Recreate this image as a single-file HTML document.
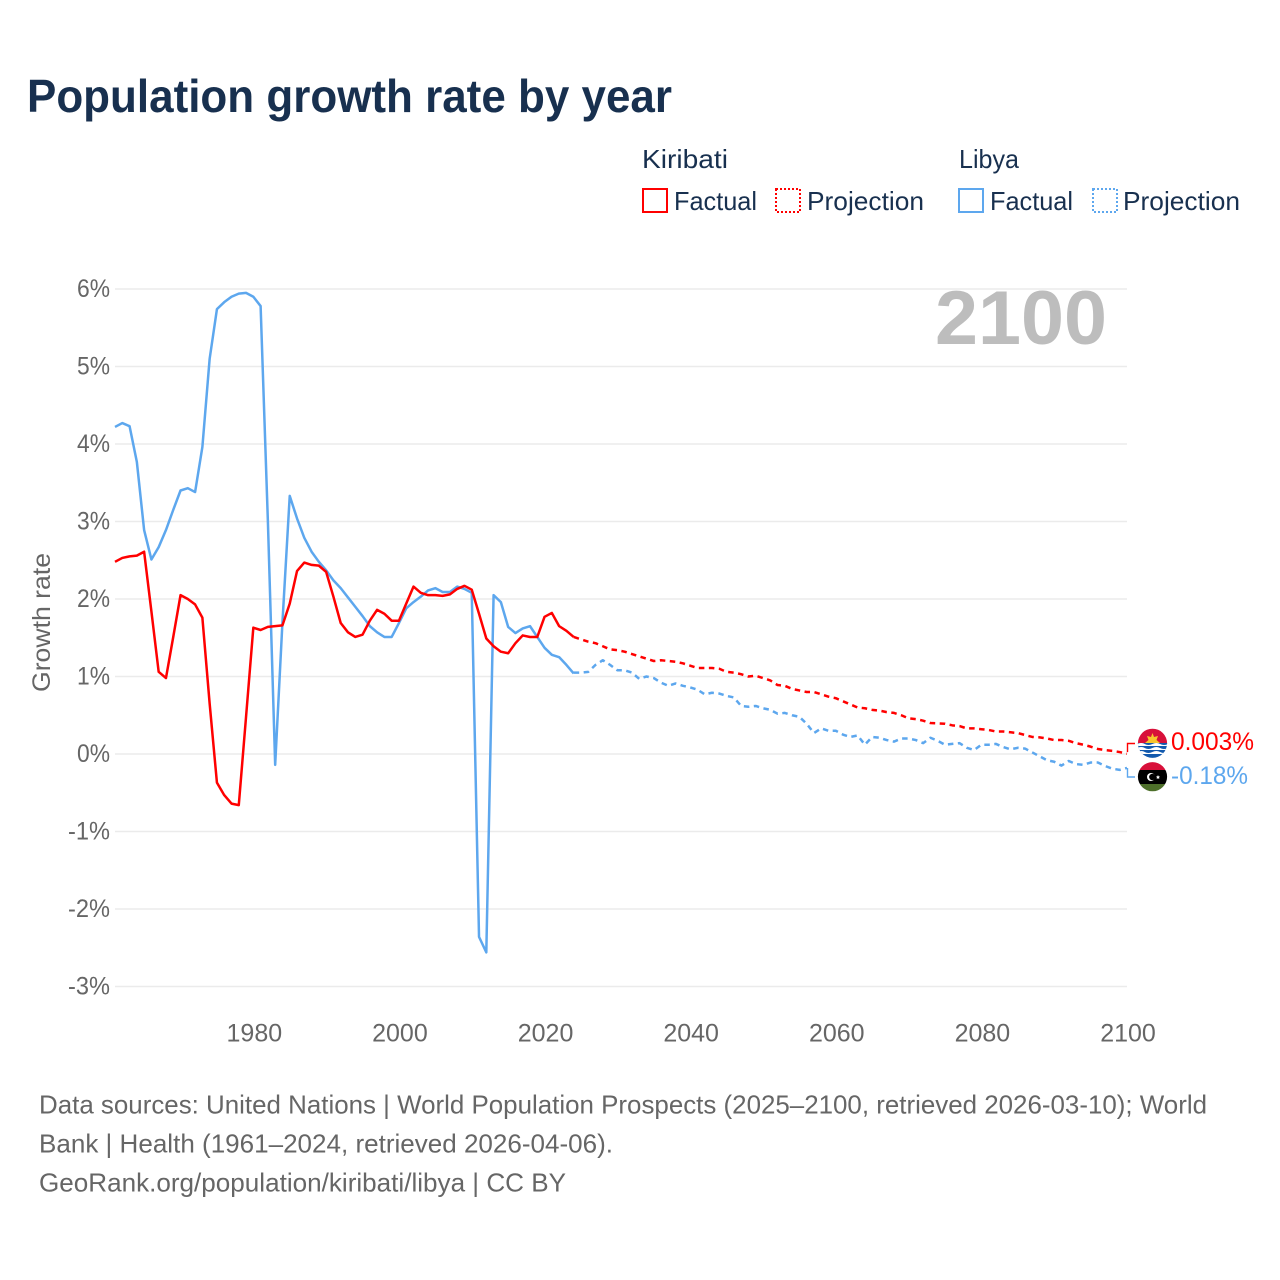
<!DOCTYPE html>
<html lang="en">
<head>
<meta charset="utf-8">
<title>Population growth rate by year</title>
<style>
html,body{margin:0;padding:0;background:#fff;}
svg{display:block;}
text{font-family:"Liberation Sans",sans-serif;}
</style>
</head>
<body>
<svg id="chart" xmlns="http://www.w3.org/2000/svg" width="1280" height="1280" viewBox="0 0 1280 1280">
  <rect x="0" y="0" width="1280" height="1280" fill="#ffffff"/>
  <text x="27" y="112" font-size="46" font-weight="700" fill="#18304f" textLength="645" lengthAdjust="spacingAndGlyphs">Population growth rate by year</text>

  <g font-size="26" fill="#18304f">
    <text x="642" y="168" textLength="86" lengthAdjust="spacingAndGlyphs">Kiribati</text>
    <rect x="643" y="189" width="24" height="23" fill="none" stroke="#ff0000" stroke-width="2"/>
    <text x="674" y="210" textLength="83" lengthAdjust="spacingAndGlyphs">Factual</text>
    <rect x="776" y="189" width="24" height="23" fill="none" stroke="#ff0000" stroke-width="2" stroke-dasharray="2 2"/>
    <text x="807" y="210" textLength="117" lengthAdjust="spacingAndGlyphs">Projection</text>
    <text x="959" y="168" textLength="60" lengthAdjust="spacingAndGlyphs">Libya</text>
    <rect x="959" y="189" width="24" height="23" fill="none" stroke="#5da7ee" stroke-width="2"/>
    <text x="990" y="210" textLength="83" lengthAdjust="spacingAndGlyphs">Factual</text>
    <rect x="1093" y="189" width="24" height="23" fill="none" stroke="#5da7ee" stroke-width="2" stroke-dasharray="2 2"/>
    <text x="1123" y="210" textLength="117" lengthAdjust="spacingAndGlyphs">Projection</text>
  </g>

  <text transform="translate(50,622.5) rotate(-90)" text-anchor="middle" font-size="25" fill="#666666" textLength="139" lengthAdjust="spacingAndGlyphs">Growth rate</text>
  <g id="grid"></g>
  <g id="yTicks"></g>
  <g id="xTicks"></g>
  <text x="1107" y="344" text-anchor="end" font-size="76" font-weight="700" fill="#bdbdbd" textLength="172" lengthAdjust="spacingAndGlyphs">2100</text>
  <g id="series"></g>

  <path d="M1127.5 752V743.5H1135" fill="none" stroke="#ff0000" stroke-width="1.4"/>
  <path d="M1127.5 768V777H1135" fill="none" stroke="#5da7ee" stroke-width="1.4"/>

  <defs>
    <clipPath id="flagClipK"><circle cx="1152.5" cy="743.3" r="14.6"/></clipPath>
    <clipPath id="flagClipL"><circle cx="1152.5" cy="776.7" r="14.6"/></clipPath>
  </defs>
  <g clip-path="url(#flagClipK)">
    <rect x="1137" y="728" width="31" height="16" fill="#d8103a"/>
    <rect x="1137" y="743" width="31" height="16" fill="#1259ad"/>
    <polygon points="1152.5,733 1154,737 1158,736 1156.5,740 1160,743 1145,743 1148.5,740 1147,736 1151,737" fill="#f7c52e"/>
    <path d="M1137 744q4-2 7.7 0t7.7 0 7.7 0 7.9 0v2h-31z M1137 748q4-2 7.7 0t7.7 0 7.7 0 7.9 0v2h-31z M1137 752q4-2 7.7 0t7.7 0 7.7 0 7.9 0v2h-31z" fill="#ffffff"/>
  </g>
  <g clip-path="url(#flagClipL)">
    <rect x="1137" y="762" width="31" height="8" fill="#d8103a"/>
    <rect x="1137" y="770" width="31" height="14" fill="#000000"/>
    <rect x="1137" y="784" width="31" height="8" fill="#4d6f2a"/>
    <circle cx="1151" cy="777" r="4" fill="#ffffff"/>
    <circle cx="1152.3" cy="777" r="3.2" fill="#000000"/>
    <polygon points="1158,775 1158.6,776.4 1160,776.6 1159,777.6 1159.3,779 1158,778.3 1156.7,779 1157,777.6 1156,776.6 1157.4,776.4" fill="#ffffff"/>
  </g>
  <text x="1171" y="750" font-size="25" fill="#ff0000" textLength="83" lengthAdjust="spacingAndGlyphs">0.003%</text>
  <text x="1171" y="784" font-size="25" fill="#5da7ee" textLength="77" lengthAdjust="spacingAndGlyphs">-0.18%</text>

  <g font-size="26" fill="#666666">
    <text x="39" y="1113.5" textLength="1168" lengthAdjust="spacingAndGlyphs">Data sources: United Nations | World Population Prospects (2025–2100, retrieved 2026-03-10); World</text>
    <text x="39" y="1152.5" textLength="574" lengthAdjust="spacingAndGlyphs">Bank | Health (1961–2024, retrieved 2026-04-06).</text>
    <text x="39" y="1191.5" textLength="527" lengthAdjust="spacingAndGlyphs">GeoRank.org/population/kiribati/libya | CC BY</text>
  </g>
</svg>
<script>
const yTickValues = [6, 5, 4, 3, 2, 1, 0, -1, -2, -3];
const xTickYears = [1980, 2000, 2020, 2040, 2060, 2080, 2100];
const factualStartYear = 1961;
const projectionStartYear = 2024;

const kiribatiFactual = [
  2.48, 2.53, 2.55, 2.56, 2.61, 1.84, 1.06, 0.98, 1.51,
  2.05, 2.00, 1.93, 1.76, 0.65, -0.37, -0.53, -0.64, -0.66, 0.48,
  1.63, 1.60, 1.64, 1.65, 1.66, 1.94, 2.36, 2.47, 2.44, 2.43,
  2.35, 2.03, 1.69, 1.57, 1.51, 1.54, 1.72, 1.86, 1.81, 1.72,
  1.72, 1.94, 2.16, 2.08, 2.05, 2.05, 2.04, 2.06, 2.13, 2.17,
  2.12, 1.81, 1.49, 1.39, 1.32, 1.30, 1.43, 1.53, 1.51, 1.51,
  1.77, 1.82, 1.65, 1.59, 1.51
];
const kiribatiProjection = [
  1.51, 1.48, 1.45, 1.43, 1.39, 1.35, 1.34, 1.32, 1.29, 1.26,
  1.23, 1.20, 1.21, 1.20, 1.19, 1.17, 1.14, 1.11, 1.11, 1.11,
  1.10, 1.06, 1.05, 1.03, 1.00, 1.01, 0.98, 0.95, 0.89, 0.88,
  0.84, 0.82, 0.80, 0.80, 0.77, 0.74, 0.72, 0.68, 0.64, 0.60,
  0.59, 0.57, 0.56, 0.54, 0.53, 0.50, 0.46, 0.45, 0.43, 0.40,
  0.395, 0.39, 0.37, 0.36, 0.33, 0.33, 0.32, 0.31, 0.29, 0.29,
  0.28, 0.27, 0.245, 0.22, 0.215, 0.20, 0.18, 0.18, 0.17, 0.14,
  0.12, 0.095, 0.065, 0.05, 0.04, 0.025, 0.003
];
const libyaFactual = [
  4.22, 4.27, 4.23, 3.77, 2.89, 2.51, 2.67, 2.89, 3.15,
  3.40, 3.43, 3.38, 3.96, 5.10, 5.74, 5.83, 5.90, 5.94, 5.95,
  5.90, 5.78, 3.00, -0.14, 1.70, 3.33, 3.04, 2.79, 2.61, 2.48,
  2.37, 2.24, 2.14, 2.02, 1.90, 1.78, 1.65, 1.57, 1.51, 1.51,
  1.69, 1.88, 1.96, 2.03, 2.11, 2.14, 2.09, 2.09, 2.16, 2.13,
  2.08, -2.36, -2.56, 2.05, 1.96, 1.64, 1.56, 1.62, 1.65, 1.51,
  1.37, 1.28, 1.25, 1.15, 1.04
];
const libyaProjection = [
  1.05, 1.05, 1.06, 1.15, 1.21, 1.15, 1.08, 1.08, 1.05, 0.97,
  1.00, 0.98, 0.92, 0.88, 0.91, 0.88, 0.86, 0.83, 0.77, 0.79,
  0.78, 0.75, 0.73, 0.62, 0.61, 0.62, 0.59, 0.57, 0.52, 0.53,
  0.50, 0.48, 0.39, 0.27, 0.33, 0.30, 0.30, 0.25, 0.22, 0.24,
  0.12, 0.22, 0.21, 0.18, 0.16, 0.20, 0.20, 0.18, 0.14, 0.21,
  0.17, 0.12, 0.13, 0.14, 0.08, 0.05, 0.12, 0.12, 0.13, 0.09,
  0.06, 0.08, 0.07, 0.02, -0.03, -0.08, -0.10, -0.15, -0.09, -0.13,
  -0.14, -0.11, -0.11, -0.155, -0.19, -0.205, -0.18
];

const SVG_NS = 'http://www.w3.org/2000/svg';
const RED = '#ff0000';
const BLUE = '#5da7ee';

function xScale(year) {
  return 115 + (year - 1961) * (1127 - 115) / (2100 - 1961);
}
function yScale(value) {
  return 754 - value * 77.5;
}
function linePath(values, startYear) {
  return values.map(function (v, i) {
    return (i ? 'L' : 'M') + xScale(startYear + i).toFixed(2) + ' ' + yScale(v).toFixed(2);
  }).join('');
}

const gridGroup = document.getElementById('grid');
const yTickGroup = document.getElementById('yTicks');
const xTickGroup = document.getElementById('xTicks');
const seriesGroup = document.getElementById('series');

yTickValues.forEach(function (v) {
  const line = document.createElementNS(SVG_NS, 'line');
  
  
  line.setAttribute('x1', 115);
  line.setAttribute('x2', 1127);
  line.setAttribute('y1', yScale(v));
  line.setAttribute('y2', yScale(v));
  line.setAttribute('stroke', '#ebebeb');
  line.setAttribute('stroke-width', 1.5);
  gridGroup.appendChild(line);

  const label = document.createElementNS(SVG_NS, 'text');
  
  
  label.setAttribute('x', 110);
  label.setAttribute('y', yScale(v) + 8);
  label.setAttribute('text-anchor', 'end');
  label.setAttribute('font-size', 25);
  label.setAttribute('fill', '#666666');
  label.setAttribute('textLength', v < 0 ? 42 : 33);
  label.setAttribute('lengthAdjust', 'spacingAndGlyphs');
  label.textContent = v + '%';
  yTickGroup.appendChild(label);
});

xTickYears.forEach(function (year) {
  const label = document.createElementNS(SVG_NS, 'text');
  
  
  label.setAttribute('x', xScale(year) + 1);
  label.setAttribute('y', 1041.5);
  label.setAttribute('text-anchor', 'middle');
  label.setAttribute('font-size', 25);
  label.setAttribute('fill', '#666666');
  label.textContent = year;
  xTickGroup.appendChild(label);
});

function drawSeries(values, startYear, color, dashed, name) {
  const path = document.createElementNS(SVG_NS, 'path');
  
  
  path.setAttribute('d', linePath(values, startYear));
  path.setAttribute('fill', 'none');
  path.setAttribute('stroke', color);
  path.setAttribute('stroke-width', 2.5);
  path.setAttribute('stroke-linejoin', 'round');
  if (dashed) {
    path.setAttribute('stroke-dasharray', '5.5 4.5');
  }
  seriesGroup.appendChild(path);
}

drawSeries(libyaFactual, factualStartYear, BLUE, false, 'libya-factual-line');
drawSeries(kiribatiFactual, factualStartYear, RED, false, 'kiribati-factual-line');
drawSeries(libyaProjection, projectionStartYear, BLUE, true, 'libya-projection-line');
drawSeries(kiribatiProjection, projectionStartYear, RED, true, 'kiribati-projection-line');
</script>
</body>
</html>
